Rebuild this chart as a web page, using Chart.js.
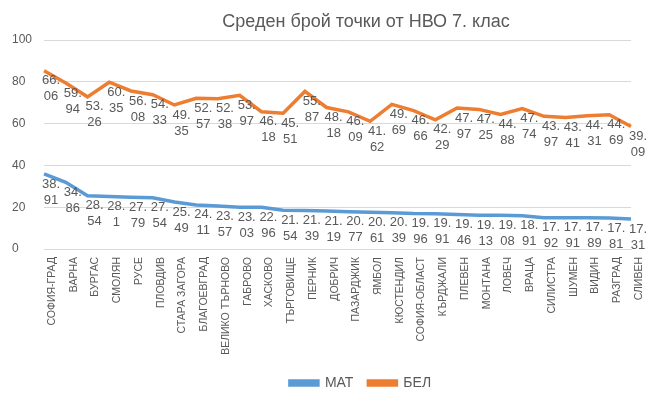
<!DOCTYPE html>
<html>
<head>
<meta charset="utf-8">
<script src="https://cdn.jsdelivr.net/npm/chart.js@4"></script>
<style>
  html, body { margin: 0; padding: 0; background: #fff; }
  #wrap { width: 662px; height: 400px; }
</style>
</head>
<body>
<div id="wrap"><canvas id="grafika" width="662" height="400"></canvas></div>
<script>
const oblasti = ["СОФИЯ-ГРАД","ВАРНА","БУРГАС","СМОЛЯН","РУСЕ","ПЛОВДИВ","СТАРА ЗАГОРА","БЛАГОЕВГРАД",
  "ВЕЛИКО ТЪРНОВО","ГАБРОВО","ХАСКОВО","ТЪРГОВИЩЕ","ПЕРНИК","ДОБРИЧ","ПАЗАРДЖИК","ЯМБОЛ","КЮСТЕНДИЛ",
  "СОФИЯ-ОБЛАСТ","КЪРДЖАЛИ","ПЛЕВЕН","МОНТАНА","ЛОВЕЧ","ВРАЦА","СИЛИСТРА","ШУМЕН","ВИДИН","РАЗГРАД","СЛИВЕН"];

// positions of the lines as drawn in the picture
const matTochki = [35.9,31.9,25.5,25.1,24.8,24.5,22.5,21.1,20.6,20.0,20.0,18.5,18.4,18.2,17.8,17.6,17.4,
  17.0,16.9,16.5,16.1,16.1,15.9,14.9,14.9,14.9,14.8,14.3];
const belTochki = [85.3,79.4,72.8,79.8,75.6,73.8,68.9,72.1,71.9,73.5,65.7,65.0,75.4,67.7,65.6,61.1,69.2,
  66.2,61.8,67.5,66.8,64.4,67.2,63.5,62.9,63.8,64.2,58.6];

// numbers written next to the points
const matEtiketi = ["38.91","34.86","28.54","28.1","27.79","27.54","25.49","24.11","23.57","23.03","22.96",
  "21.54","21.39","21.19","20.77","20.61","20.39","19.96","19.91","19.46","19.13","19.08","18.91","17.92",
  "17.91","17.89","17.81","17.31"];
const belEtiketi = ["66.06","59.94","53.26","60.35","56.08","54.33","49.35","52.57","52.38","53.97","46.18",
  "45.51","55.87","48.18","46.09","41.62","49.69","46.66","42.29","47.97","47.25","44.88","47.74","43.97",
  "43.41","44.31","44.69","39.09"];

const siv = '#595959';
const shrift = '"Liberation Sans", Arial, sans-serif';

// data labels, wrapped on two lines like in Excel
const etiketi = {
  id: 'etiketi',
  afterDatasetsDraw(chart) {
    const ctx = chart.ctx;
    ctx.save();
    ctx.font = '13px ' + shrift;
    ctx.fillStyle = siv;
    ctx.textAlign = 'center';
    ctx.textBaseline = 'middle';
    chart.data.datasets.forEach((ds, i) => {
      chart.getDatasetMeta(i).data.forEach((pt, j) => {
        const chasti = ds.etiketi[j].split('.');
        ctx.fillText(chasti[0] + '.', pt.x + 7, pt.y + 10);
        ctx.fillText(chasti[1], pt.x + 7, pt.y + 26);
      });
    });
    ctx.restore();
  }
};

const naslov = {
  id: 'naslov',
  afterLayout(chart) {
    // Excel centres the legend under the plot, not the canvas
    chart.legend.left += 39;
    chart.legend.right += 39;
  },
  afterDraw(chart) {
    const ctx = chart.ctx;
    ctx.save();
    ctx.font = '18px ' + shrift;
    ctx.fillStyle = siv;
    ctx.textAlign = 'center';
    ctx.textBaseline = 'middle';
    ctx.fillText('Среден брой точки от НВО 7. клас', 366, 22);
    ctx.restore();
  }
};

new Chart(document.getElementById('grafika'), {
  type: 'line',
  data: {
    labels: oblasti,
    datasets: [
      { label: 'МАТ', data: matTochki, etiketi: matEtiketi, borderColor: '#5b9bd5', backgroundColor: '#5b9bd5',
        borderWidth: 3.5, pointRadius: 0, tension: 0 },
      { label: 'БЕЛ', data: belTochki, etiketi: belEtiketi, borderColor: '#ed7d31', backgroundColor: '#ed7d31',
        borderWidth: 3.5, pointRadius: 0, tension: 0 }
    ]
  },
  options: {
    responsive: false,
    animation: false,
    layout: { padding: { left: 12, right: 31, top: 40, bottom: 0 } },
    plugins: {
      title: { display: false },
      tooltip: { enabled: false },
      legend: {
        position: 'bottom',
        labels: { boxWidth: 28, boxHeight: 4, color: siv, font: { size: 14, family: shrift }, padding: 15 }
      }
    },
    scales: {
      x: {
        grid: { display: false, drawTicks: false },
        border: { display: true, color: '#d9d9d9' },
        ticks: { autoSkip: false, maxRotation: 90, minRotation: 90, padding: 8, labelOffset: 8,
          color: siv, font: { size: 10.5, family: shrift } },
        afterFit(s) { s.height = 112; }
      },
      y: {
        min: 0, max: 100,
        grid: { color: '#d9d9d9', drawTicks: false },
        border: { display: false },
        ticks: { stepSize: 20, padding: 6, crossAlign: 'far', color: siv, font: { size: 12, family: shrift } }
      }
    }
  },
  plugins: [etiketi, naslov]
});
</script>
</body>
</html>
